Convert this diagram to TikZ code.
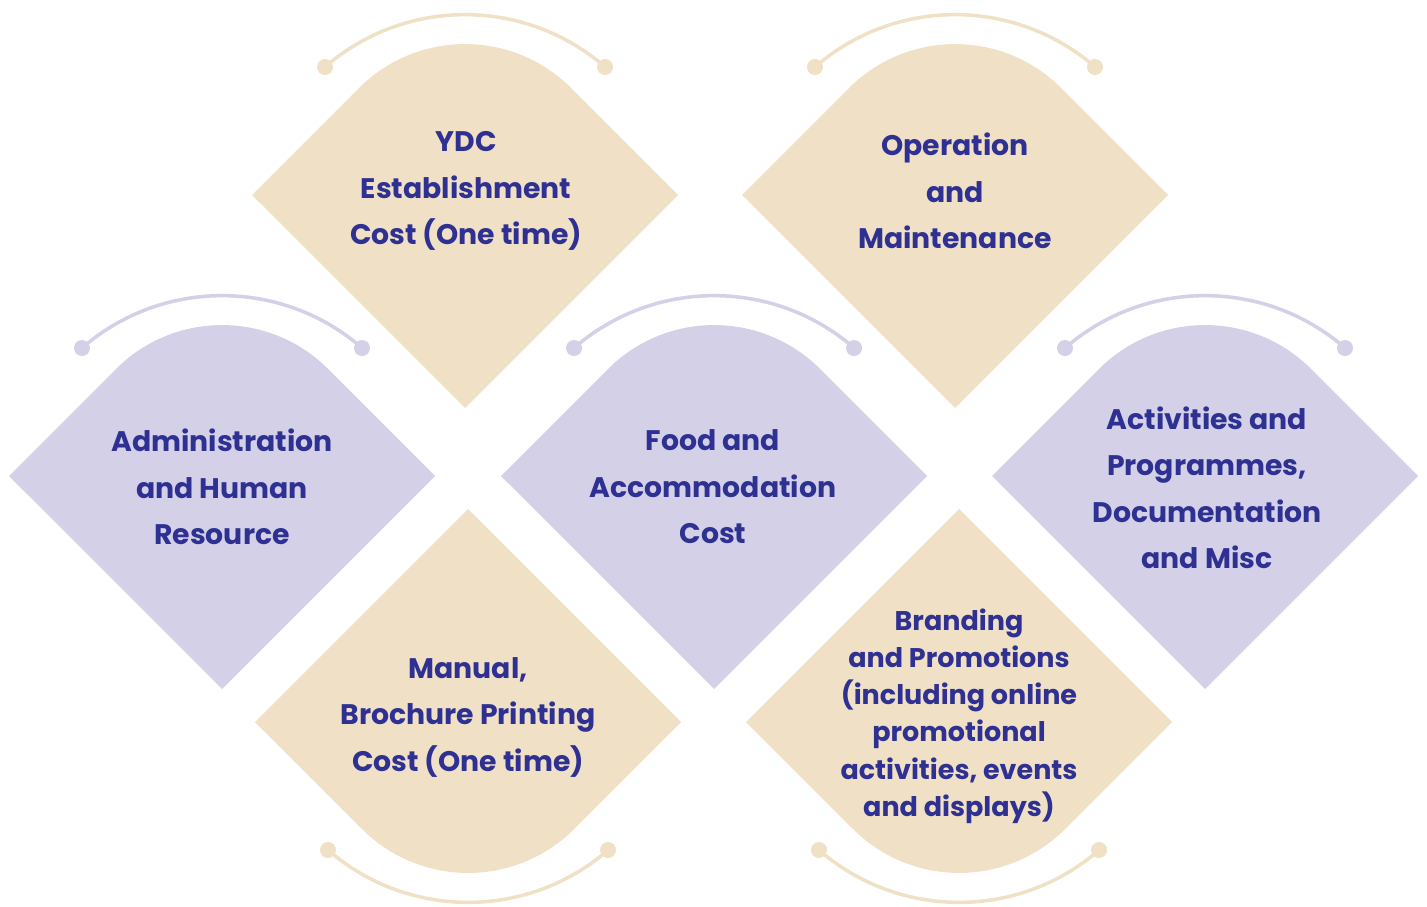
\documentclass[tikz,border=0pt]{standalone}
\usepackage{fontspec}
\setmainfont{Poppins}
\definecolor{sand}{HTML}{F0E0C6}
\definecolor{lilac}{HTML}{D3D0E8}
\definecolor{ink}{HTML}{2E3192}

\begin{document}
\begin{tikzpicture}[x=1pt,y=1pt,
  item/.style={text=ink, align=center, font=\fontsize{28.3}{46.5}\selectfont\bfseries},
  small item/.style={item, font=\fontsize{27}{37.2}\selectfont\bfseries},
  ring/.style={line width=3.5pt}]
\useasboundingbox (0,0) rectangle (1427,-906);

\foreach \x/\y/\c in {465/-195/sand, 955/-195/sand, 222/-476/lilac, 714/-476/lilac, 1205/-476/lilac} {
  \fill[\c] (\x-213,\y) -- ++(107,107) arc[start angle=135, end angle=45, radius=150] -- ++(107,-107) -- ++(-213,-213) -- cycle;
  \draw[\c, ring] (\x-140,\y+128) arc[start angle=131, end angle=49, radius=213.5];
  \fill[\c] (\x-140,\y+128) circle[radius=8] (\x+140,\y+128) circle[radius=8];
}
\foreach \x/\y/\c in {468/-722/sand, 959/-722/sand} {
  \fill[\c] (\x-213,\y) -- ++(107,-107) arc[start angle=225, end angle=315, radius=150] -- ++(107,107) -- ++(-213,213) -- cycle;
  \draw[\c, ring] (\x-140,\y-128) arc[start angle=229, end angle=311, radius=213.5];
  \fill[\c] (\x-140,\y-128) circle[radius=8] (\x+140,\y-128) circle[radius=8];
}

\node[item] (ydc) at (466,-191) {YDC\\Establishment\\Cost (One time)};
\node[item] (operation) at (955,-191) {Operation\\and\\Maintenance};
\node[item] (admin) at (222,-487) {Administration\\and Human\\Resource};
\node[item] (food) at (713,-487) {Food and\\Accommodation\\Cost};
\node[item] (activities) at (1207,-488) {Activities and\\Programmes,\\Documentation\\and Misc};
\node[item] (manual) at (468,-717) {Manual,\\Brochure Printing\\Cost (One time)};
\node[small item] (branding) at (959,-716) {Branding\\and Promotions\\(including online\\promotional\\activities, events\\and displays)};
\end{tikzpicture}
\end{document}
